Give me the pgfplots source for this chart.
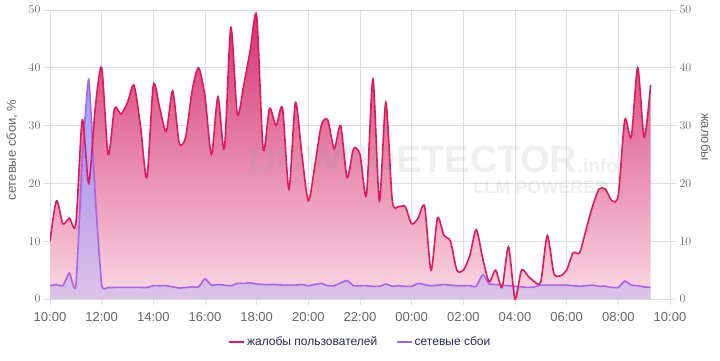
\documentclass[border=0pt]{standalone}
\usepackage{pgfplots}
\usepackage{pgfplotstable}
\pgfplotsset{compat=1.18}
\usepackage{fontspec}
\setmainfont{Liberation Sans}
\definecolor{pinkline}{RGB}{224,26,90}
\definecolor{pinktop}{RGB}{212,44,108}
\definecolor{pinkbot}{RGB}{249,218,229}
\definecolor{purpline}{RGB}{170,100,228}
\definecolor{purptop}{RGB}{140,140,255}
\definecolor{purpbot}{RGB}{215,192,233}
\definecolor{gridc}{RGB}{222,222,222}
\definecolor{tickc}{RGB}{102,102,102}
\definecolor{legc}{RGB}{40,40,85}
\definecolor{wmc}{RGB}{150,155,165}

\pgfplotstableread{
h v
0 10
0.25 17
0.5 13
0.75 14
1 13
1.25 31
1.5 20
1.75 33
2 40
2.25 25
2.5 33
2.75 32
3 34
3.25 37
3.5 30
3.75 21
4 37
4.25 33
4.5 29
4.75 36
5 27
5.25 28
5.5 36
5.75 40
6 35
6.25 25
6.5 35
6.75 26
7 47
7.25 32
7.5 37
7.75 43
8 49
8.25 26
8.5 33
8.75 30
9 33
9.25 19
9.5 34
9.75 25
10 17
10.25 23
10.5 30
10.75 31
11 26
11.25 30
11.5 21
11.75 26
12 25
12.25 18
12.5 38
12.75 17
13 34
13.25 17
13.5 16
13.75 16
14 13
14.25 14
14.5 16
14.75 5
15 14
15.25 11
15.5 10
15.75 5
16 5
16.25 7.5
16.5 12
16.75 7
17 3
17.25 5
17.5 2
17.75 9
18 0
18.25 5
18.5 4
18.75 3
19 3
19.25 11
19.5 4.5
19.75 4
20 5
20.25 8
20.5 8
20.75 12
21 16
21.25 19
21.5 19
21.75 17
22 18
22.25 31
22.5 28
22.75 40
23 28
23.25 37
}\complaints

\pgfplotstableread{
h v
0 2.3
0.25 2.5
0.5 2.3
0.75 4.5
1 2.2
1.25 24
1.5 38
1.75 18
2 2.5
2.25 2.0
2.5 2.0
2.75 2.0
3 2.0
3.25 2.0
3.5 2.0
3.75 2.0
4 2.3
4.25 2.3
4.5 2.3
4.75 2.1
5 1.9
5.25 2.0
5.5 2.1
5.75 2.1
6 3.5
6.25 2.4
6.5 2.5
6.75 2.4
7 2.3
7.25 2.7
7.5 2.7
7.75 2.8
8 2.6
8.25 2.5
8.5 2.5
8.75 2.5
9 2.4
9.25 2.4
9.5 2.4
9.75 2.5
10 2.3
10.25 2.5
10.5 2.7
10.75 2.3
11 2.3
11.25 2.8
11.5 3.2
11.75 2.3
12 2.3
12.25 2.3
12.5 2.2
12.75 2.2
13 2.6
13.25 2.2
13.5 2.3
13.75 2.2
14 2.2
14.25 2.7
14.5 2.5
14.75 2.3
15 2.4
15.25 2.5
15.5 2.4
15.75 2.3
16 2.3
16.25 2.3
16.5 2.2
16.75 4.2
17 2.6
17.25 2.5
17.5 2.4
17.75 2.3
18 2.2
18.25 2.1
18.5 2.0
18.75 2.1
19 2.4
19.25 2.4
19.5 2.4
19.75 2.4
20 2.4
20.25 2.3
20.5 2.2
20.75 2.3
21 2.4
21.25 2.2
21.5 2.2
21.75 2.0
22 2.0
22.25 3.1
22.5 2.4
22.75 2.3
23 2.1
23.25 2.0
}\outages

\begin{document}
\begin{tikzpicture}
\useasboundingbox (0pt,0pt) rectangle (720pt,360pt);
\begin{axis}[
  at={(50pt,61pt)}, anchor=south west,
  scale only axis, width=620pt, height=289pt,
  xmin=0, xmax=24, ymin=0, ymax=50,
  xtick={0,2,...,24},
  xticklabels={10:00,12:00,14:00,16:00,18:00,20:00,22:00,00:00,02:00,04:00,06:00,08:00,10:00},
  ytick={0,10,...,50},
  xtick pos=bottom, ytick pos=left,
  tick align=outside, major tick length=6pt,
  tick style={gridc, line width=0.8pt},
  grid=major, grid style={gridc, line width=0.8pt},
  axis line style={gridc, line width=0.8pt},
  ticklabel style={font=\fontsize{13}{15}\selectfont, text=tickc},
  xticklabel style={yshift=-4pt},
  legend style={at={(0.5,-0.149)}, anchor=center, draw=none, fill=none,
    font=\fontsize{12}{14}\selectfont, text=legc,
    legend columns=2,
    /tikz/every even column/.append style={column sep=16pt}},
  legend image code/.code={\draw[#1] (0pt,0pt) -- (15pt,0pt);},
]
\addplot[draw=none, top color=pinktop, bottom color=pinkbot, smooth, tension=0.45, forget plot]
  table[x=h, y=v]{\complaints} \closedcycle;
\addplot[draw=none, top color=purptop, bottom color=purpbot, fill opacity=0.85, smooth, tension=0.3, forget plot]
  table[x=h, y=v]{\outages} \closedcycle;
\node[text=wmc, text opacity=0.16, font=\bfseries\fontsize{38}{40}\selectfont, anchor=base west] at (axis cs:7.55,21.9) {DOWNDETECTOR};
\node[text=wmc, text opacity=0.16, font=\bfseries\fontsize{19}{20}\selectfont, anchor=base west] at (axis cs:20.3,21.9) {.info};
\node[text=wmc, text opacity=0.16, font=\bfseries\fontsize{18}{20}\selectfont, anchor=base east] at (axis cs:21.75,18.3) {LLM POWERED};
\addplot[purpline, line width=1.6pt, smooth, tension=0.3, forget plot] table[x=h, y=v]{\outages};
\addplot[pinkline, line width=1.6pt, smooth, tension=0.45, forget plot] table[x=h, y=v]{\complaints};
\addlegendimage{pinkline, line width=2.4pt}
\addlegendentry{жалобы пользователей}
\addlegendimage{purpline!70!blue!80!white, line width=2.4pt}
\addlegendentry{сетевые сбои}
\end{axis}
\begin{axis}[
  at={(50pt,61pt)}, anchor=south west,
  scale only axis, width=620pt, height=289pt,
  xmin=0, xmax=24, ymin=0, ymax=50,
  xtick=\empty, ytick={0,10,...,50},
  ytick pos=right, yticklabel pos=right,
  tick align=outside, major tick length=6pt,
  tick style={gridc, line width=0.8pt},
  axis line style={draw=none},
  ticklabel style={font=\fontsize{13}{15}\selectfont, text=tickc},
]
\end{axis}
\node[rotate=90, text=tickc, font=\fontsize{13}{15}\selectfont] at (12pt,210pt) {сетевые сбои, \%};
\node[rotate=-90, text=tickc, font=\fontsize{13}{15}\selectfont] at (706pt,223pt) {жалобы};
\end{tikzpicture}
\end{document}
